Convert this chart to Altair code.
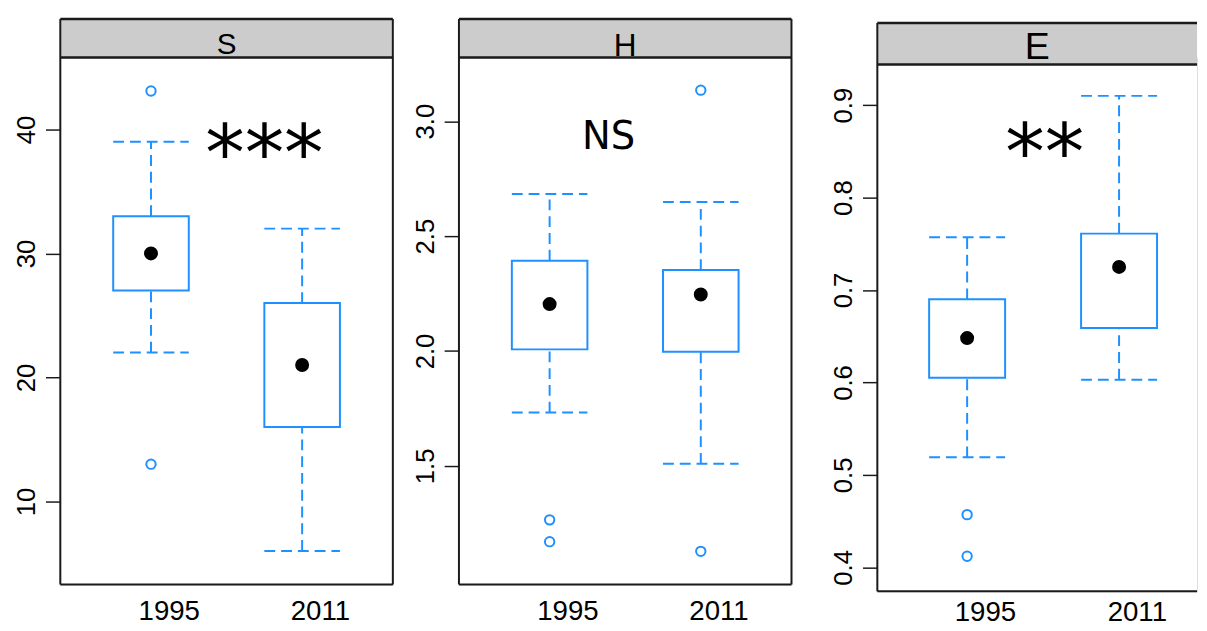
import altair as alt
import pandas as pd

years = ["1995", "2011"]
year_idx = [1, 2]

# Panel S
S_low = [22.0, 6.0]
S_q1 = [27.0, 16.0]
S_med = [30.0, 21.0]
S_q3 = [33.0, 26.0]
S_high = [39.0, 32.0]
S_out_idx = [1, 1]
S_out_val = [43.1, 13.0]

# Panel H
H_low = [1.732, 1.509]
H_q1 = [2.007, 1.997]
H_med = [2.204, 2.246]
H_q3 = [2.393, 2.352]
H_high = [2.683, 2.648]
H_out_idx = [1, 1, 2, 2]
H_out_val = [1.265, 1.170, 3.135, 1.128]

# Panel E
E_low = [0.519, 0.603]
E_q1 = [0.605, 0.659]
E_med = [0.648, 0.725]
E_q3 = [0.690, 0.761]
E_high = [0.757, 0.910]
E_out_idx = [1, 1]
E_out_val = [0.457, 0.412]

# Significance labels
S_sig = "***"
H_sig = "NS"
E_sig = "**"

S_ticks = [10, 20, 30, 40]
H_ticks = [1.5, 2.0, 2.5, 3.0]
E_ticks = [0.4, 0.5, 0.6, 0.7, 0.8, 0.9]

BLUE = "#1E90FF"
FRAME = "#1a1a1a"
H_PLOT = 534


def panel(name, low, q1, med, q3, high, out_idx, out_val, sig, sig_x, sig_y,
          sig_size, ydom, yticks, yfmt, xdom, width, strip_h, strip_font, strip_dy,
          label_pad, xlab_pad, right_border, left_extra, shift):
    stats = pd.DataFrame({"idx": year_idx, "year": years, "low": low, "q1": q1,
                          "med": med, "q3": q3, "high": high})
    outs = pd.DataFrame({"idx": out_idx, "val": out_val})
    label_expr = f"datum.value == 1 ? '{years[0]}' : '{years[1]}'"
    xscale = alt.Scale(domain=xdom, nice=False, zero=False)
    yscale = alt.Scale(domain=ydom, nice=False, zero=False)
    xaxis = alt.Axis(values=year_idx, labelExpr=label_expr, ticks=False, domain=False,
                     grid=False, title=None, labelFontSize=28, labelPadding=xlab_pad,
                     labelOffset=18, labelFont="Liberation Sans", labelColor="black",
                     labelFlush=False)
    yaxis = alt.Axis(values=yticks, grid=False, domain=False, title=None,
                     tickSize=15, tickColor=FRAME, tickWidth=1.5,
                     labelAngle=-90, labelAlign="center", labelBaseline="bottom",
                     labelFontSize=26, labelFont="Liberation Sans", labelColor="black",
                     labelPadding=label_pad, labelFlush=False, format=yfmt)

    base = alt.Chart(stats).transform_calculate(
        lo="datum.idx - 0.25", hi="datum.idx + 0.25")
    X = alt.X("idx:Q", scale=xscale, axis=xaxis)
    dash = [11, 6]
    upper = base.mark_rule(color=BLUE, strokeWidth=2, strokeDash=dash).encode(
        x=X, y=alt.Y("q3:Q", scale=yscale, axis=yaxis), y2="high:Q")
    lower = base.mark_rule(color=BLUE, strokeWidth=2, strokeDash=dash).encode(
        x=X, y=alt.Y("low:Q", scale=yscale, axis=yaxis), y2="q1:Q")
    cap_hi = base.mark_rule(color=BLUE, strokeWidth=2, strokeDash=dash).encode(
        x=alt.X("lo:Q", scale=xscale, axis=xaxis), x2="hi:Q",
        y=alt.Y("high:Q", scale=yscale, axis=yaxis))
    cap_lo = base.mark_rule(color=BLUE, strokeWidth=2, strokeDash=dash).encode(
        x=alt.X("lo:Q", scale=xscale, axis=xaxis), x2="hi:Q",
        y=alt.Y("low:Q", scale=yscale, axis=yaxis))
    box = base.mark_rect(fill="white", stroke=BLUE, strokeWidth=2).encode(
        x=alt.X("lo:Q", scale=xscale, axis=xaxis), x2="hi:Q",
        y=alt.Y("q1:Q", scale=yscale, axis=yaxis), y2="q3:Q")
    dot = base.mark_circle(color="black", size=200, opacity=1).encode(
        x=X, y=alt.Y("med:Q", scale=yscale, axis=yaxis))
    outl = alt.Chart(outs).mark_point(shape="circle", filled=False, stroke=BLUE,
                                      strokeWidth=2, size=90, opacity=1).encode(
        x=alt.X("idx:Q", scale=xscale, axis=xaxis),
        y=alt.Y("val:Q", scale=yscale, axis=yaxis))

    one = alt.Chart(pd.DataFrame({"label": [name], "sig": [sig]}))
    sig_text = one.mark_text(font="DejaVu Sans", fontSize=sig_size, color="black",
                             baseline="middle", align="center").encode(
        x=alt.X("sx:Q", scale=xscale, axis=xaxis),
        y=alt.Y("sy:Q", scale=yscale, axis=yaxis), text="sig:N"
    ).transform_calculate(sx=str(sig_x), sy=str(sig_y))

    top = shift - strip_h
    h = H_PLOT + shift
    strip_rect = one.mark_rect(fill="#CCCCCC", strokeWidth=0).encode(
        x=alt.value(0), x2=alt.value(width), y=alt.value(top), y2=alt.value(shift))
    strip_top = one.mark_rule(color=FRAME, strokeWidth=2.5).encode(
        x=alt.value(0), x2=alt.value(width), y=alt.value(top))
    strip_bot = one.mark_rule(color=FRAME, strokeWidth=2.5).encode(
        x=alt.value(0), x2=alt.value(width), y=alt.value(shift))
    strip_txt = one.mark_text(font="Liberation Sans", fontSize=strip_font,
                              color="black", baseline="alphabetic",
                              align="center").encode(
        x=alt.value(width / 2), y=alt.value(shift + strip_dy), text="label:N")
    left = one.mark_rule(color=FRAME, strokeWidth=2).encode(
        x=alt.value(0), y=alt.value(top), y2=alt.value(h))
    bottom = one.mark_rule(color=FRAME, strokeWidth=2).encode(
        x=alt.value(0), x2=alt.value(width), y=alt.value(h))
    layers = [strip_rect, strip_top, strip_bot, strip_txt, left, bottom]
    if right_border:
        layers.append(one.mark_rule(color=FRAME, strokeWidth=2).encode(
            x=alt.value(width), y=alt.value(top), y2=alt.value(h)))
    if left_extra:
        layers.append(one.mark_rule(opacity=0, strokeWidth=0.1).encode(
            x=alt.value(-left_extra), x2=alt.value(-left_extra + 1),
            y=alt.value(h / 2)))
    return alt.layer(upper, lower, cap_hi, cap_lo, box, dot, outl, sig_text,
                     *layers).properties(width=width, height=h)


pS = panel("S", S_low, S_q1, S_med, S_q3, S_high, S_out_idx, S_out_val,
           S_sig, 1.75, 37.8, 80, [3.3, 45.8], S_ticks, "d", [0.4, 2.6], 337,
           39, 30, -4, 6, 14, True, 0, 0)
pH = panel("H", H_low, H_q1, H_med, H_q3, H_high, H_out_idx, H_out_val,
           H_sig, 1.39, 2.929, 39, [0.984, 3.277], H_ticks, ".1f", [0.4, 2.6], 337,
           39, 32, -2, 6, 14, True, 0, 0)
pE = panel("E", E_low, E_q1, E_med, E_q3, E_high, E_out_idx, E_out_val,
           E_sig, 1.51, 0.846, 80, [0.374, 0.9515], E_ticks, ".1f", [0.409, 2.513], 324,
           42, 38, -5, 6, 8, False, 67, 7)

chart = alt.hconcat(pS, pH, pE, spacing=17).properties(
    padding={"left": 5, "top": 5, "right": 0, "bottom": 0}
).configure_view(strokeWidth=0).configure(background="white")

chart.save("out.html", embed_options={"renderer": "svg", "actions": False})
